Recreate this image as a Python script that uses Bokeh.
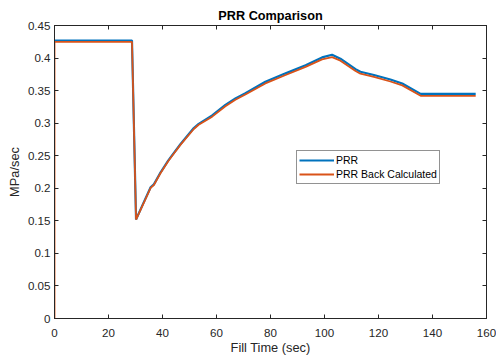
from bokeh.plotting import figure
from bokeh.models import (LinearAxis, FixedTicker, CustomJSTickFormatter, Legend,
                          LegendItem, Range1d, CustomLabelingPolicy)
from bokeh.embed import file_html
from bokeh.resources import INLINE

# ---- data ----
x_prr = [0, 28.7, 30.2, 33, 35.6, 36.8, 39.3, 42.1, 43.6, 46.7, 51.6, 53.4, 58.4,
         63.3, 67.0, 70.7, 78.1, 85.6, 93.0, 99.1, 102.8, 105.9, 111.5, 113.3,
         118.3, 124.4, 128.8, 135.6, 156]
y_prr = [0.427, 0.427, 0.152, 0.178, 0.2015, 0.206, 0.2245, 0.2424, 0.251, 0.268,
         0.2925, 0.299, 0.312, 0.328, 0.338, 0.346, 0.3635, 0.3765, 0.389, 0.401,
         0.405, 0.399, 0.383, 0.379, 0.374, 0.367, 0.361, 0.345, 0.345]

x_back = [0, 0, 28.7, 30.2, 33, 35.6, 36.8, 39.3, 42.1, 43.6, 46.7, 51.6, 53.4, 58.4,
          63.3, 67.0, 70.7, 78.1, 85.6, 93.0, 99.1, 102.8, 105.9, 111.5, 113.3,
          118.3, 124.4, 128.8, 135.6, 156]
y_back = [0.0, 0.425, 0.425, 0.152, 0.177, 0.2005, 0.205, 0.2235, 0.2415, 0.250,
          0.267, 0.291, 0.2975, 0.310, 0.326, 0.336, 0.344, 0.361, 0.374, 0.3865,
          0.398, 0.4015, 0.396, 0.380, 0.376, 0.371, 0.364, 0.358, 0.342, 0.342]

x_ticks = [0, 20, 40, 60, 80, 100, 120, 140, 160]
y_ticks = [0, 0.05, 0.1, 0.15, 0.2, 0.25, 0.3, 0.35, 0.4, 0.45]

series_names = ["PRR", "PRR Back Calculated"]
series_colors = ["#0072BD", "#D95319"]

FONT = "Liberation Sans"
AX = "#262626"

p = figure(width=496, height=360, output_backend="svg", toolbar_location=None,
           x_range=Range1d(0, 160), y_range=Range1d(0, 0.45),
           min_border_left=54, min_border_right=10, min_border_top=25,
           min_border_bottom=42)

p.background_fill_color = "white"
p.border_fill_color = "white"
p.outline_line_color = AX
p.outline_line_width = 1
p.xgrid.visible = False
p.ygrid.visible = False

fmt = CustomJSTickFormatter(code="return String(Math.round(tick*100)/100);")
no_labels = CustomLabelingPolicy(
    code="const Cls = indices.constructor; return new Cls(indices.size);")

def style_axis(ax, ticks, show_labels=True):
    ax.ticker = FixedTicker(ticks=ticks)
    ax.formatter = fmt
    ax.major_tick_in = 4
    ax.major_tick_out = 0
    ax.minor_tick_line_color = None
    ax.axis_line_color = AX
    ax.major_tick_line_color = AX
    ax.major_label_text_color = AX
    ax.major_label_text_font = FONT
    if show_labels:
        ax.major_label_text_font_size = "11.6px"
    else:
        ax.major_label_text_font_size = "0px"
        ax.major_label_policy = no_labels
        ax.major_label_standoff = 0

xa = p.xaxis[0]
ya = p.yaxis[0]
style_axis(xa, x_ticks)
style_axis(ya, y_ticks)
xa.major_label_standoff = 10
ya.major_label_standoff = 4

xa.axis_label = "Fill Time (sec)"
ya.axis_label = "MPa/sec"
for ax in (xa, ya):
    ax.axis_label_text_font = FONT
    ax.axis_label_text_font_style = "normal"
    ax.axis_label_text_font_size = "12.8px"
    ax.axis_label_text_color = AX
xa.axis_label_standoff = 0
ya.axis_label_standoff = 3

top = LinearAxis()
style_axis(top, x_ticks, show_labels=False)
p.add_layout(top, "above")
right = LinearAxis()
style_axis(right, y_ticks, show_labels=False)
p.add_layout(right, "right")

p.title.text = "PRR Comparison"
p.title.align = "center"
p.title.text_font = FONT
p.title.text_font_style = "bold"
p.title.text_font_size = "12.7px"
p.title.text_color = "black"
p.title.standoff = 6

r1 = p.line(x_prr, y_prr, line_color=series_colors[0], line_width=2.2)
r2 = p.line(x_back, y_back, line_color=series_colors[1], line_width=1.8)

legend = Legend(items=[LegendItem(label=series_names[0], renderers=[r1]),
                       LegendItem(label=series_names[1], renderers=[r2])],
                location=(242, 134))
legend.label_text_font = FONT
legend.label_text_font_size = "10.5px"
legend.label_text_color = "black"
legend.border_line_color = AX
legend.border_line_width = 1
legend.background_fill_color = "white"
legend.background_fill_alpha = 1
legend.padding = 2
legend.margin = 0
legend.spacing = 0
legend.glyph_width = 35
legend.glyph_height = 14
legend.label_height = 14
legend.label_standoff = 2
p.add_layout(legend)

open("out.html", "w").write(file_html(p, INLINE))
